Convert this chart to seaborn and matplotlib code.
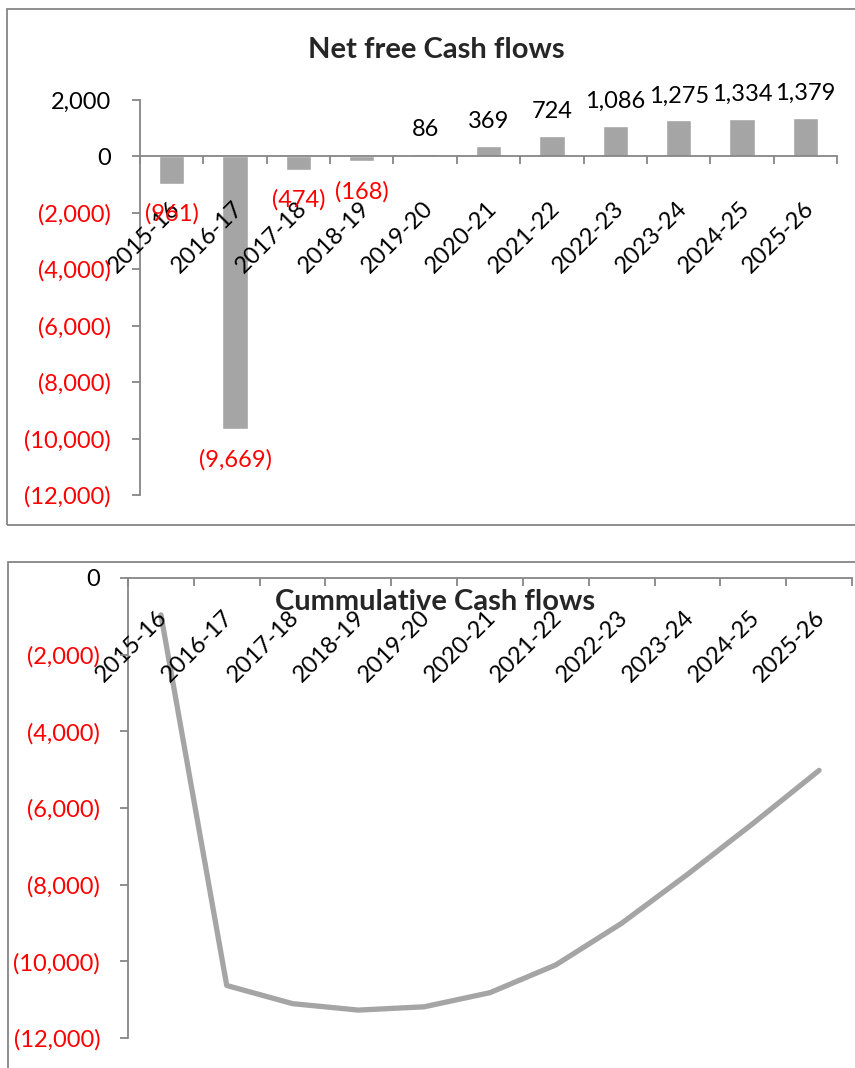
import numpy as np
import pandas as pd
import matplotlib
matplotlib.use("Agg")
import matplotlib.pyplot as plt
from matplotlib.patches import Rectangle
from matplotlib.ticker import FuncFormatter, FixedLocator
from matplotlib.transforms import ScaledTranslation
import seaborn as sns

# Financial years
years = ["2015-16", "2016-17", "2017-18", "2018-19", "2019-20", "2020-21",
         "2021-22", "2022-23", "2023-24", "2024-25", "2025-26"]
# Net free cash flow per year
net_flows = [-961, -9669, -474, -168, 86, 369, 724, 1086, 1275, 1334, 1379]
# Running total of the cash flows
cumulative_flows = [-961, -10630, -11104, -11272, -11186, -10817, -10093,
                    -9007, -7732, -6398, -5019]

top_yticks = [2000, 0, -2000, -4000, -6000, -8000, -10000, -12000]
bottom_yticks = [0, -2000, -4000, -6000, -8000, -10000, -12000]

sns.set_theme(style="white")
plt.rcParams["font.family"] = ["Lato", "DejaVu Sans"]

GREY = "#A5A5A5"
AXIS = "#868686"
RED = "#FF0000"
FS = 17
TITLE_FS = 21


def money(v, _pos=None):
    return f"({abs(v):,.0f})" if v < 0 else f"{v:,.0f}"


W, H = 855, 1068
fig = plt.figure(figsize=(W / 100, H / 100), dpi=100)


def frac_box(x0, y0, x1, y1):
    return [x0 / W, 1 - y1 / H, (x1 - x0) / W, (y1 - y0) / H]


# chart frames
fig.patches.append(Rectangle((7 / W, 1 - 525 / H), 2, (525 - 9) / H,
                             transform=fig.transFigure, fill=False,
                             edgecolor=AXIS, linewidth=1.3))
fig.patches.append(Rectangle((8 / W, -1), 2, 1 + (1 - 562 / H),
                             transform=fig.transFigure, fill=False,
                             edgecolor=AXIS, linewidth=1.3))

df = pd.DataFrame({"year": years, "net": net_flows,
                   "cum": cumulative_flows, "pos": np.arange(len(years))})


def style_axis(ax, yticks, pad_x, pad_y, dx):
    n = len(years)
    ax.set_xlim(-0.5, n - 0.5)
    ax.set_axisbelow(False)
    for s in ("top", "right"):
        ax.spines[s].set_visible(False)
    for s in ("left", "bottom"):
        ax.spines[s].set_color(AXIS)
        ax.spines[s].set_linewidth(1.3)
    ax.spines["bottom"].set_position(("data", 0))
    ax.set_xticks(range(n))
    ax.set_xticklabels(years)
    ax.xaxis.set_minor_locator(FixedLocator(np.arange(-0.5, n, 1.0)))
    ax.tick_params(axis="x", which="major", length=0, pad=pad_x,
                   labelsize=FS, labelcolor="black")
    ax.tick_params(axis="x", which="minor", length=6, width=1.3,
                   direction="out", color=AXIS, bottom=True)
    shift = ScaledTranslation(dx / 100, 0, fig.dpi_scale_trans)
    for lab in ax.get_xticklabels():
        lab.set_rotation(45)
        lab.set_rotation_mode("anchor")
        lab.set_ha("right")
        lab.set_va("center")
        lab.set_transform(lab.get_transform() + shift)
    ax.set_yticks(yticks)
    ax.yaxis.set_major_formatter(FuncFormatter(money))
    ax.tick_params(axis="y", length=6, width=1.3, direction="out",
                   color=AXIS, labelsize=FS, left=True, pad=pad_y)
    for lab, v in zip(ax.get_yticklabels(), yticks):
        lab.set_color(RED if v < 0 else "black")
    ax.set_xlabel("")
    ax.set_ylabel("")
    ax.grid(False)


# --- Net free cash flows (bars) ---
ax1 = fig.add_axes(frac_box(140, 100, 837, 495))
sns.barplot(data=df, x="year", y="net", color=GREY, saturation=1,
            width=0.4, ax=ax1)
ax1.set_ylim(-12000, 2000)
style_axis(ax1, top_yticks, 35, 15, 5)
bars = ax1.containers[0]
pos_texts = ax1.bar_label(bars, labels=[money(v) if v >= 0 else ""
                                        for v in net_flows],
                          padding=10, fontsize=FS, color="black")
neg_texts = ax1.bar_label(bars, labels=[money(v) if v < 0 else ""
                                        for v in net_flows],
                          padding=14, fontsize=FS, color=RED)
fig.text(436 / W, 1 - 50 / H, "Net free Cash flows", ha="center",
         va="center", fontsize=TITLE_FS, fontweight="bold")

# --- Cumulative cash flows (line) ---
ax2 = fig.add_axes(frac_box(128, 578, 852, 1038))
sns.lineplot(data=df, x="pos", y="cum", color=GREY, linewidth=3.8,
             solid_capstyle="round", ax=ax2)
ax2.set_ylim(-12000, 0)
style_axis(ax2, bottom_yticks, 26, 14, 3)
fig.text(435 / W, 1 - 602 / H, "Cummulative Cash flows", ha="center",
         va="center", fontsize=TITLE_FS, fontweight="bold", zorder=0)

fig.savefig("out.png", dpi=100)
